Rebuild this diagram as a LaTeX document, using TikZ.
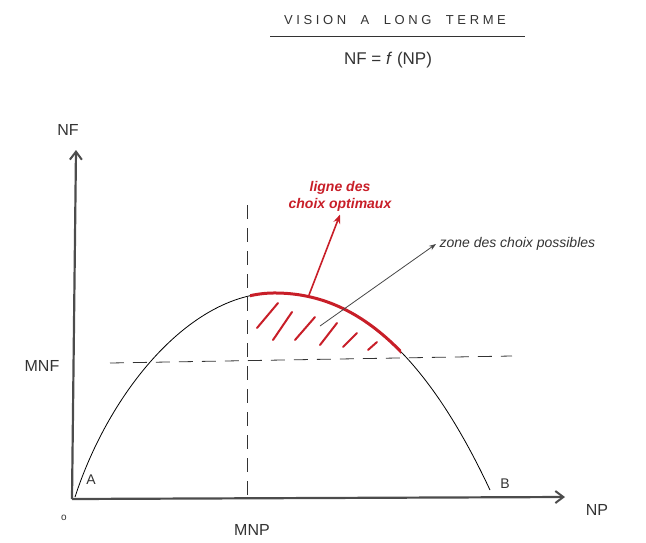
\documentclass[tikz,border=0pt]{standalone}
\usepackage{fontspec}
\setmainfont{Liberation Sans}
\usetikzlibrary{arrows.meta}
\definecolor{penred}{RGB}{200,30,40}
\definecolor{pengray}{RGB}{70,70,70}
\tikzset{
  hand/.style={font=\fontsize{16}{18}\selectfont, text=black!80},
  redtext/.style={font=\bfseries\itshape\fontsize{14}{17}\selectfont, text=penred, align=center},
  axis/.style={line width=2.2pt, black!70, -{Straight Barb[length=8pt,width=12pt,line width=2pt]}},
  dashline/.style={dash pattern=on 14pt off 9pt, line width=0.8pt, black!80},
  hatch/.style={penred, line width=2pt, line cap=round},
}
\begin{document}
\begin{tikzpicture}[x=1pt,y=-1pt]
\useasboundingbox (0,0) rectangle (646,542);
% title
\node[hand, font=\fontsize{13}{15}\selectfont] (title) at (395,20) {V I S I O N \;\; A \;\; L O N G \;\; T E R M E};
\draw[line width=1pt, black!80] (270,36) -- (525,36);
\node[hand, font=\fontsize{17}{19}\selectfont] (fn) at (388,60) {NF = \textit{f} (NP)};
% axes
\coordinate (O) at (72,499);
\coordinate (yend) at (76,150);
\coordinate (xend) at (565,497);
\draw[axis] (O) -- (yend);
\draw[axis] (O) -- (xend);
\node[hand] (nf) at (68,130) {NF};
\node[hand] (np) at (597,510) {NP};
\node[hand, font=\fontsize{10}{10}\selectfont] (zero) at (64,518) {o};
\node[hand] (mnp) at (252,530) {MNP};
\node[hand] (mnf) at (42,366) {MNF};
\node[hand, font=\fontsize{14}{14}\selectfont] (A) at (91,480) {A};
\node[hand, font=\fontsize{14}{14}\selectfont] (B) at (505,484) {B};
% dashed lines
\coordinate (vtop) at (247,205);
\coordinate (vbot) at (247,499);
\coordinate (hl) at (110,363);
\coordinate (hr) at (512,356);
\draw[dashline] (vtop) -- (vbot);
\draw[dashline] (hl) -- (hr);
% curve
\def\curvepath{(75,497) .. controls (110,390) and (190,295) .. (272,293) .. controls (340,292) and (415,330) .. (490,490)}
\draw[line width=0.8pt, black] \curvepath;
\begin{scope}
\clip (250,0) rectangle (401,600);
\draw[penred, line width=3pt] \curvepath;
\end{scope}
% hatching
\draw[hatch] (257,328) -- (278,303);
\draw[hatch] (273,340) -- (292,312);
\draw[hatch] (295,340) -- (315,317);
\draw[hatch] (320,345) -- (337,323);
\draw[hatch] (343,347) -- (357,333);
\draw[hatch] (368,350) -- (377,342);
% labels with arrows
\node[redtext] (ligne) at (340,196) {ligne des\\choix optimaux};
\coordinate (redstart) at (309,295);
\draw[penred, line width=1.6pt, -{Stealth[length=9pt,width=7pt]}] (redstart) -- (ligne.south);
\node[hand, font=\itshape\fontsize{14}{14}\selectfont, anchor=west] (zone) at (436,244) {zone des choix possibles};
\coordinate (graystart) at (320,326);
\draw[pengray, line width=0.8pt, -{Stealth[length=7pt,width=5pt]}] (graystart) -- (zone.west);
\end{tikzpicture}
\end{document}
